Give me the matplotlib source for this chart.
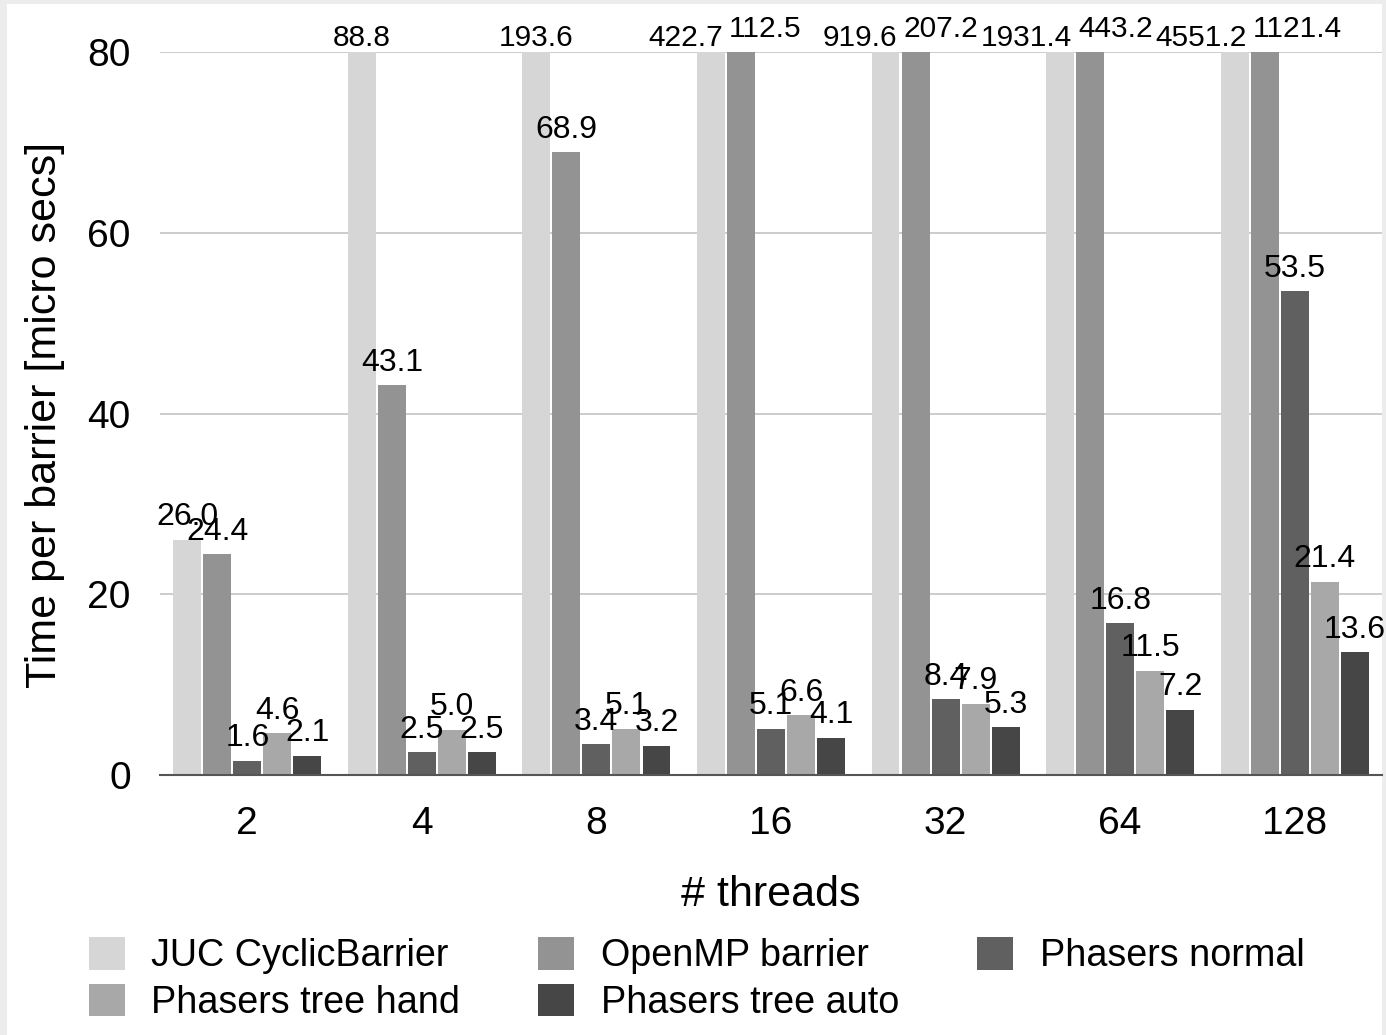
import matplotlib
matplotlib.use("Agg")
import matplotlib.pyplot as plt
from matplotlib.patches import Rectangle
import numpy as np

plt.rcParams['font.family'] = ['Liberation Sans', 'DejaVu Sans']

threads = ["2", "4", "8", "16", "32", "64", "128"]
series_names = ["JUC CyclicBarrier", "OpenMP barrier", "Phasers normal",
                "Phasers tree hand", "Phasers tree auto"]
juc_cyclic = [26.0, 88.8, 193.6, 422.7, 919.6, 1931.4, 4551.2]
openmp_barrier = [24.4, 43.1, 68.9, 112.5, 207.2, 443.2, 1121.4]
phasers_normal = [1.6, 2.5, 3.4, 5.1, 8.4, 16.8, 53.5]
phasers_tree_hand = [4.6, 5.0, 5.1, 6.6, 7.9, 11.5, 21.4]
phasers_tree_auto = [2.1, 2.5, 3.2, 4.1, 5.3, 7.2, 13.6]
y_ticks = [0, 20, 40, 60, 80]

series = [juc_cyclic, openmp_barrier, phasers_normal, phasers_tree_hand, phasers_tree_auto]
colors = ["#d6d6d6", "#939393", "#606060", "#a8a8a8", "#464646"]

W, H = 1386, 1035
fig = plt.figure(figsize=(W / 100, H / 100), dpi=100, facecolor="#ececec")
# white page inside the light grey frame
fig.patches.append(Rectangle((7 / W, 0), (W - 11) / W, (H - 4) / H,
                             transform=fig.transFigure, facecolor="white",
                             edgecolor="none", zorder=-1))

ax = fig.add_axes([160 / W, 1 - 775 / H, 1222 / W, (775 - 52) / H])
ax.set_zorder(1)
ax.patch.set_alpha(0)

x = np.arange(len(threads))
pitch = 0.172
width = 0.16
ymax = 80
bars_all = []
for i, (vals, col, name) in enumerate(zip(series, colors, series_names)):
    offs = (i - 2) * pitch
    bars = ax.bar(x + offs, vals, width, color=col, label=name, zorder=2)
    bars_all.append(bars)

# value labels; labels of bars cut at the top sit lower, smaller, and are
# pushed apart when both tall bars of a group are cut
for gi in range(len(threads)):
    both_clipped = juc_cyclic[gi] > ymax and openmp_barrier[gi] > ymax
    for i, vals in enumerate(series):
        v = vals[gi]
        xc = gi + (i - 2) * pitch
        ha, dx, dy, fs = "center", 0, 10.5, 23
        if v > ymax:
            dy, fs = 4.5, 21.5
            if both_clipped and i == 0:
                ha, xc, dx = "right", xc + width / 2, -1.5
            elif both_clipped and i == 1:
                ha, xc, dx, dy = "left", xc - width / 2, 1.5, 10.5
        ax.annotate(f"{v:.1f}", xy=(xc, min(v, ymax)), xytext=(dx, dy),
                    textcoords="offset points", ha=ha, va="baseline",
                    fontsize=fs, color="black", annotation_clip=False, zorder=5)

ax.set_xlim(-0.5, len(threads) - 0.5)
ax.set_ylim(0, ymax)
ax.set_yticks(y_ticks)
ax.set_yticklabels([str(t) for t in y_ticks])
ax.set_xticks(x)
ax.set_xticklabels(threads)
ax.tick_params(axis="both", length=0, labelsize=28)
ax.tick_params(axis="y", pad=21)
ax.tick_params(axis="x", pad=22)
ax.yaxis.grid(True, color="#c4c4c4", linewidth=1.2, zorder=0)
ax.set_axisbelow(True)
for s in ["top", "right", "left"]:
    ax.spines[s].set_visible(False)
ax.spines["bottom"].set_color("#555555")
ax.spines["bottom"].set_linewidth(1.5)
ax.spines["bottom"].set_zorder(3)

ax.set_xlabel("# threads", fontsize=31, labelpad=24)
fig.text(45 / W, 1 - 415 / H, "Time per barrier [micro secs]", rotation=90,
         ha="center", va="center", fontsize=31)

order = [0, 3, 1, 4, 2]
handles = [bars_all[k] for k in order]
labels = [series_names[k] for k in order]
fig.legend(handles, labels, ncol=3, loc="upper left",
           bbox_to_anchor=(55 / W, 1 - 903 / H), frameon=False,
           fontsize=27.2, handlelength=0.95, handleheight=0.95,
           handletextpad=0.7, columnspacing=2.07, labelspacing=0.25)

fig.savefig("out.png", dpi=100, facecolor=fig.get_facecolor())
